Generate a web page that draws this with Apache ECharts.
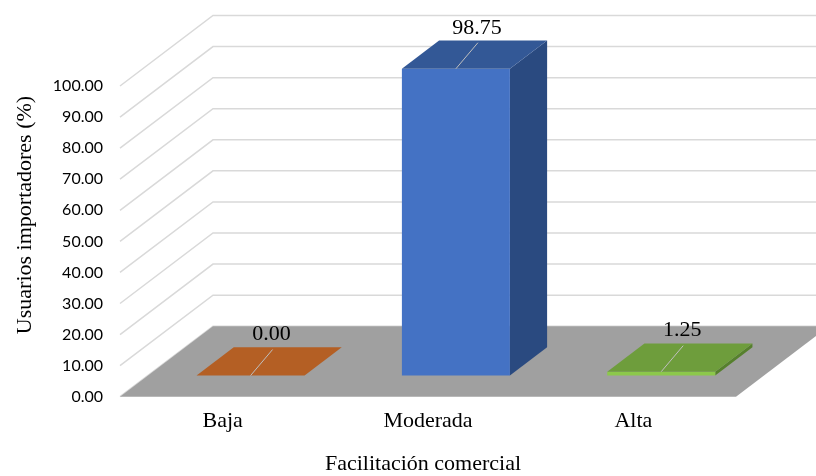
<!DOCTYPE html>
<html>
<head>
<meta charset="utf-8">
<script src="https://cdn.jsdelivr.net/npm/echarts@6/dist/echarts.min.js"></script>
<style>
  html, body { margin: 0; padding: 0; background: #fff; }
  #chart { width: 816px; height: 476px; }
</style>
</head>
<body>
<div id="chart"></div>
<script>
// Chart data
const categories = ['Baja', 'Moderada', 'Alta'];
const values = [0.00, 98.75, 1.25];
const yTicks = [0, 10, 20, 30, 40, 50, 60, 70, 80, 90, 100];

// Pseudo-3D look: depth offset of the back wall and the bar slab
const DX = 93, DY = 70.5;
const BAR_FRONT = 0.30, BAR_BACK = 0.70, BAR_WIDTH = 0.526;

const palette = [
  { front: '#C55A11', top: '#B45F24', side: '#8F4716' },
  { front: '#4472C4', top: '#335896', side: '#2A4A80' },
  { front: '#8CC84B', top: '#6E9D3C', side: '#56802D' }
];

const serif = '"Liberation Serif", "Times New Roman", serif';

const chart = echarts.init(document.getElementById('chart'), null, { renderer: 'canvas' });

function wallLine(params, api) {
  const p = api.coord([0, api.value(1)]);
  const band = api.size([1, 0])[0];
  const xL = p[0] - band / 2;
  return {
    type: 'polyline',
    shape: { points: [[xL, p[1]], [xL + DX, p[1] - DY], [xL + DX + 1200, p[1] - DY]] },
    style: { stroke: '#D9D9D9', lineWidth: 1.5, fill: null }
  };
}

function floor(params, api) {
  const p0 = api.coord([0, 0]);
  const p1 = api.coord([categories.length - 1, 0]);
  const band = api.size([1, 0])[0];
  const xL = p0[0] - band / 2, xR = p1[0] + band / 2, y = p0[1];
  return {
    type: 'polygon',
    shape: { points: [[xL, y], [xR, y], [xR + DX, y - DY], [xL + DX, y - DY]] },
    style: { fill: '#A0A0A0' }
  };
}

function bar3d(params, api) {
  const i = api.value(0), v = api.value(1);
  const top = api.coord([i, v]);
  const base = api.coord([i, 0]);
  const band = api.size([1, 0])[0];
  const hw = band * BAR_WIDTH / 2;
  const fx = BAR_FRONT * DX, fy = BAR_FRONT * DY;
  const bx = BAR_BACK * DX, by = BAR_BACK * DY;
  const xl = top[0] - hw + fx, xr = top[0] + hw + fx;
  const yt = top[1] - fy, yb = base[1] - fy;
  const c = palette[i];
  const bdx = bx - fx, bdy = by - fy;
  const children = [];
  if (yb - yt > 0.1) {
    children.push({
      type: 'polygon',
      shape: { points: [[xr, yb], [xr + bdx, yb - bdy], [xr + bdx, yt - bdy], [xr, yt]] },
      style: { fill: c.side }
    });
    children.push({
      type: 'rect',
      shape: { x: xl, y: yt, width: xr - xl, height: yb - yt },
      style: { fill: c.front }
    });
  }
  children.push({
    type: 'polygon',
    shape: { points: [[xl, yt], [xr, yt], [xr + bdx, yt - bdy], [xl + bdx, yt - bdy]] },
    style: { fill: c.top }
  });
  // value callout
  const cx = top[0] + fx;
  children.push({
    type: 'line',
    shape: { x1: cx, y1: yt, x2: cx + 22, y2: yt - 26 },
    style: { stroke: '#BFBFBF', lineWidth: 1 }
  });
  children.push({
    type: 'text',
    style: {
      text: v.toFixed(2), x: cx + 21, y: yt - 41,
      align: 'center', verticalAlign: 'middle',
      font: '22px ' + serif, fill: '#000'
    }
  });
  return { type: 'group', children: children };
}

chart.setOption({
  animation: false,
  grid: { left: 120, right: 80, top: 86, bottom: 79.3, containLabel: false },
  xAxis: {
    type: 'category',
    data: categories,
    axisLine: { show: false },
    axisTick: { show: false },
    axisLabel: { margin: 14, fontFamily: serif, fontSize: 22, color: '#000' }
  },
  yAxis: {
    type: 'value',
    min: 0, max: 100, interval: 10,
    axisLine: { show: false },
    axisTick: { show: false },
    splitLine: { show: false },
    axisLabel: {
      margin: 17, fontFamily: 'Lato', fontSize: 16, color: '#000',
      formatter: v => v.toFixed(2)
    }
  },
  graphic: [
    {
      type: 'text', x: 25, y: 215, rotation: Math.PI / 2,
      style: { text: 'Usuarios importadores (%)', align: 'center', verticalAlign: 'middle', font: '22px ' + serif, fill: '#000' }
    },
    {
      type: 'text', x: 423, y: 464,
      style: { text: 'Facilitación comercial', align: 'center', verticalAlign: 'middle', font: '22px ' + serif, fill: '#000' }
    }
  ],
  series: [
    { type: 'custom', clip: false, z: 1, renderItem: wallLine, data: yTicks.map(t => [0, t]) },
    { type: 'custom', clip: false, z: 2, renderItem: floor, data: [[0, 0]] },
    { type: 'custom', clip: false, z: 3, renderItem: bar3d, data: values.map((v, i) => [i, v]) }
  ]
});
</script>
</body>
</html>
